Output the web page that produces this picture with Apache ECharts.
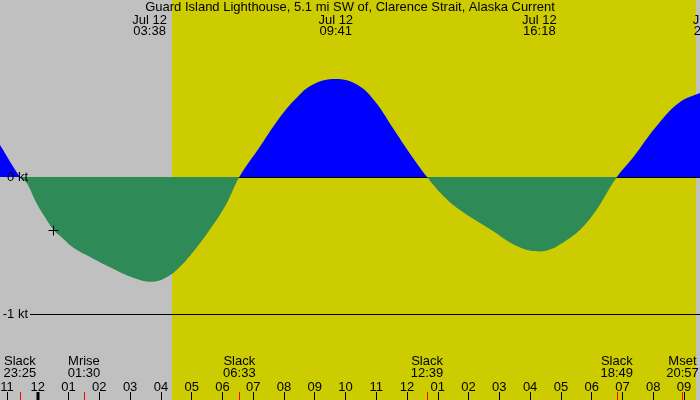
<!DOCTYPE html>
<html><head><meta charset="utf-8">
<script src="https://cdn.jsdelivr.net/npm/echarts@6/dist/echarts.min.js"></script>
<style>html,body{margin:0;padding:0;background:#c0c0c0}#c{width:700px;height:400px}</style>
</head><body><div id="c"></div>
<script>
// ---------- data ----------
const titleText = 'Guard Island Lighthouse, 5.1 mi SW of, Clarence Strait, Alaska Current';
// time in hours from Jul 12 00:00 (negative = Jul 11), current in knots
const curveTimes = [-1.6, -1.23, -0.58, -0.36, -0.07, 0.22, 0.51, 0.80, 1.17, 1.67, 2.40, 3.12, 3.70, 4.14, 4.58, 5.15, 5.74, 6.17, 6.55, 7.19, 7.77, 8.35, 8.93, 9.68, 10.38, 10.96, 11.54, 12.12, 12.65, 13.14, 13.71, 14.73, 15.60, 16.30, 17.05, 17.92, 18.82, 19.37, 20.10, 20.83, 21.52, 21.85, 22.40];
const curveKnots = [0.36, 0.234, 0.0, -0.044, -0.178, -0.288, -0.385, -0.445, -0.518, -0.58, -0.664, -0.737, -0.764, -0.737, -0.664, -0.518, -0.336, -0.178, 0.0, 0.212, 0.406, 0.564, 0.674, 0.715, 0.674, 0.552, 0.358, 0.163, 0.0, -0.129, -0.239, -0.385, -0.507, -0.543, -0.482, -0.312, 0.0, 0.150, 0.369, 0.540, 0.613, 0.635, 0.61];
const extremeDate = 'Jul 12';
const extremeTimes = ['03:38', '09:41', '16:18', '21:51'];
const eventNames = ['Slack', 'Mrise', 'Slack', 'Slack', 'Slack', 'Mset'];
const eventTimes = ['23:25', '01:30', '06:33', '12:39', '18:49', '20:57'];
const eventDayOffsets = [-1, 0, 0, 0, 0, 0];
const sunriseTime = '04:22';
const sunsetTime = '21:23';
const hourTicks = [-1, 0, 1, 2, 3, 4, 5, 6, 7, 8, 9, 10, 11, 12, 13, 14, 15, 16, 17, 18, 19, 20, 21];
const midnightTicks = [0];
const yTickValues = [0, -1];
const yTickLabels = ['0 kt', '-1 kt'];
const nowMarkerTime = 0.50;
const nowMarkerKnots = -0.385;

// ---------- helpers ----------
function hm(s, day) { const p = s.split(':'); return (day || 0) * 24 + (+p[0]) + (+p[1]) / 60; }
function hourLabel(t) { let h = ((t % 12) + 12) % 12; if (h === 0) h = 12; return (h < 10 ? '0' : '') + h; }

const FONT_FAMILY = '"Liberation Sans", Arial, Helvetica, sans-serif';
const FONT = '13px ' + FONT_FAMILY;
const PX_PER_HOUR = 30.77, X_MIDNIGHT = 37.8;
const PX_PER_KT = 137, Y_ZERO = 177;
const xMin = -X_MIDNIGHT / PX_PER_HOUR, xMax = (700 - X_MIDNIGHT) / PX_PER_HOUR;
const yMax = Y_ZERO / PX_PER_KT, yMin = -(400 - Y_ZERO) / PX_PER_KT;

const curveData = curveTimes.map((t, i) => [t, curveKnots[i]]);
const eventData = eventTimes.map((s, i) => [hm(s, eventDayOffsets[i]), 0, i]);
const extremeData = extremeTimes.map((s, i) => [hm(s, 0), 0, i]);

const chart = echarts.init(document.getElementById('c'), null, { renderer: 'canvas' });
chart.setOption({
  backgroundColor: '#c0c0c0',
  animation: false,
  title: {
    text: titleText, left: 'center', top: 1, padding: 0,
    textStyle: { fontSize: 13, fontWeight: 'normal', color: '#000', fontFamily: FONT_FAMILY }
  },
  grid: { left: 0, right: 0, top: 0, bottom: 0, containLabel: false, outerBoundsMode: 'none' },
  xAxis: {
    type: 'value', min: xMin, max: xMax, z: 10,
    axisLine: { show: false, onZero: false }, splitLine: { show: false },
    axisTick: { show: true, inside: true, length: 8, lineStyle: { color: '#000', width: 1 }, customValues: hourTicks },
    axisLabel: { show: true, inside: true, margin: 6, customValues: hourTicks, formatter: v => hourLabel(Math.round(v)),
      color: '#000', fontSize: 13, fontFamily: FONT_FAMILY }
  },
  yAxis: {
    type: 'value', min: yMin, max: yMax, z: 10,
    axisLine: { show: false, onZero: false }, splitLine: { show: false }, axisTick: { show: false },
    axisLabel: { show: true, inside: true, margin: 28, align: 'right', customValues: yTickValues,
      formatter: v => yTickLabels[yTickValues.indexOf(Math.round(v))] || '',
      color: '#000', fontSize: 13, fontFamily: FONT_FAMILY }
  },
  visualMap: [
    { show: false, type: 'piecewise', seriesIndex: 1, dimension: 1,
      pieces: [{ gte: -5, lt: 0, color: 'rgba(0,0,0,0)' }, { gte: 0, lte: 5, color: '#0000ff' }] },
    { show: false, type: 'piecewise', seriesIndex: 3, dimension: 1,
      pieces: [{ gte: -5, lt: 0, color: '#2e8b57' }, { gte: 0, lte: 5, color: 'rgba(0,0,0,0)' }] }
  ],
  series: [
    { // daylight band
      type: 'custom', z: 1, silent: true,
      data: [[hm(sunriseTime), hm(sunsetTime)]],
      renderItem: (params, api) => {
        const x1 = Math.round(api.coord([api.value(0), 0])[0]);
        const x2 = Math.round(api.coord([api.value(1), 0])[0]);
        return { type: 'rect', shape: { x: x1, y: 0, width: x2 - x1, height: 400 }, style: { fill: '#cccc00' } };
      }
    },
    { // flood (blue)
      type: 'line', z: 2, data: curveData, smooth: 0.4,
      symbol: 'none', showSymbol: false, lineStyle: { width: 0, opacity: 0 },
      areaStyle: { opacity: 1 }, silent: true
    },
    { // reference lines 0 kt and -1 kt
      type: 'custom', z: 3, silent: true,
      data: yTickValues.map(v => [0, v]),
      renderItem: (params, api) => {
        const y = Math.round(api.coord([0, api.value(1)])[1]) + 0.5;
        return { type: 'line', shape: { x1: 30, y1: y, x2: 700, y2: y }, style: { stroke: '#000', lineWidth: 1 } };
      }
    },
    { // ebb (green)
      type: 'line', z: 4, data: curveData, smooth: 0.4,
      symbol: 'none', showSymbol: false, lineStyle: { width: 0, opacity: 0 },
      areaStyle: { opacity: 1 }, silent: true
    },
    { // events: labels and red ticks
      type: 'custom', z: 5, silent: true, data: eventData,
      renderItem: (params, api) => {
        const i = api.value(2);
        const x = api.coord([api.value(0), 0])[0];
        const xr = Math.round(x) + 0.5;
        return { type: 'group', children: [
          { type: 'text', style: { text: eventNames[i], x: x, y: 361.7, align: 'center', verticalAlign: 'middle', font: FONT, fill: '#000' } },
          { type: 'text', style: { text: eventTimes[i], x: x, y: 373.7, align: 'center', verticalAlign: 'middle', font: FONT, fill: '#000' } },
          { type: 'line', shape: { x1: xr, y1: 392, x2: xr, y2: 400 }, style: { stroke: '#ff0000', lineWidth: 1 } }
        ] };
      }
    },
    { // midnight thick tick
      type: 'custom', z: 5, silent: true, data: midnightTicks.map(t => [t, 0]),
      renderItem: (params, api) => {
        const x = api.coord([api.value(0), 0])[0];
        return { type: 'rect', shape: { x: Math.round(x) - 1.5, y: 392, width: 3, height: 8 }, style: { fill: '#000' } };
      }
    },
    { // extremes: date and time labels at top
      type: 'custom', z: 5, silent: true, data: extremeData,
      renderItem: (params, api) => {
        const i = api.value(2);
        const x = api.coord([api.value(0), 0])[0];
        return { type: 'group', children: [
          { type: 'text', style: { text: extremeDate, x: x, y: 20.2, align: 'center', verticalAlign: 'middle', font: FONT, fill: '#000' } },
          { type: 'text', style: { text: extremeTimes[i], x: x, y: 31.9, align: 'center', verticalAlign: 'middle', font: FONT, fill: '#000' } }
        ] };
      }
    },
    { // current-time "+" marker
      type: 'custom', z: 6, silent: true, data: [[nowMarkerTime, nowMarkerKnots]],
      renderItem: (params, api) => {
        const p = api.coord([api.value(0), api.value(1)]);
        const x = Math.round(p[0]) + 0.5, y = Math.round(p[1]) + 0.5;
        return { type: 'group', children: [
          { type: 'line', shape: { x1: x - 5, y1: y, x2: x + 5, y2: y }, style: { stroke: '#000', lineWidth: 1 } },
          { type: 'line', shape: { x1: x, y1: y - 5, x2: x, y2: y + 5 }, style: { stroke: '#000', lineWidth: 1 } }
        ] };
      }
    }
  ]
});
</script>
</body></html>
